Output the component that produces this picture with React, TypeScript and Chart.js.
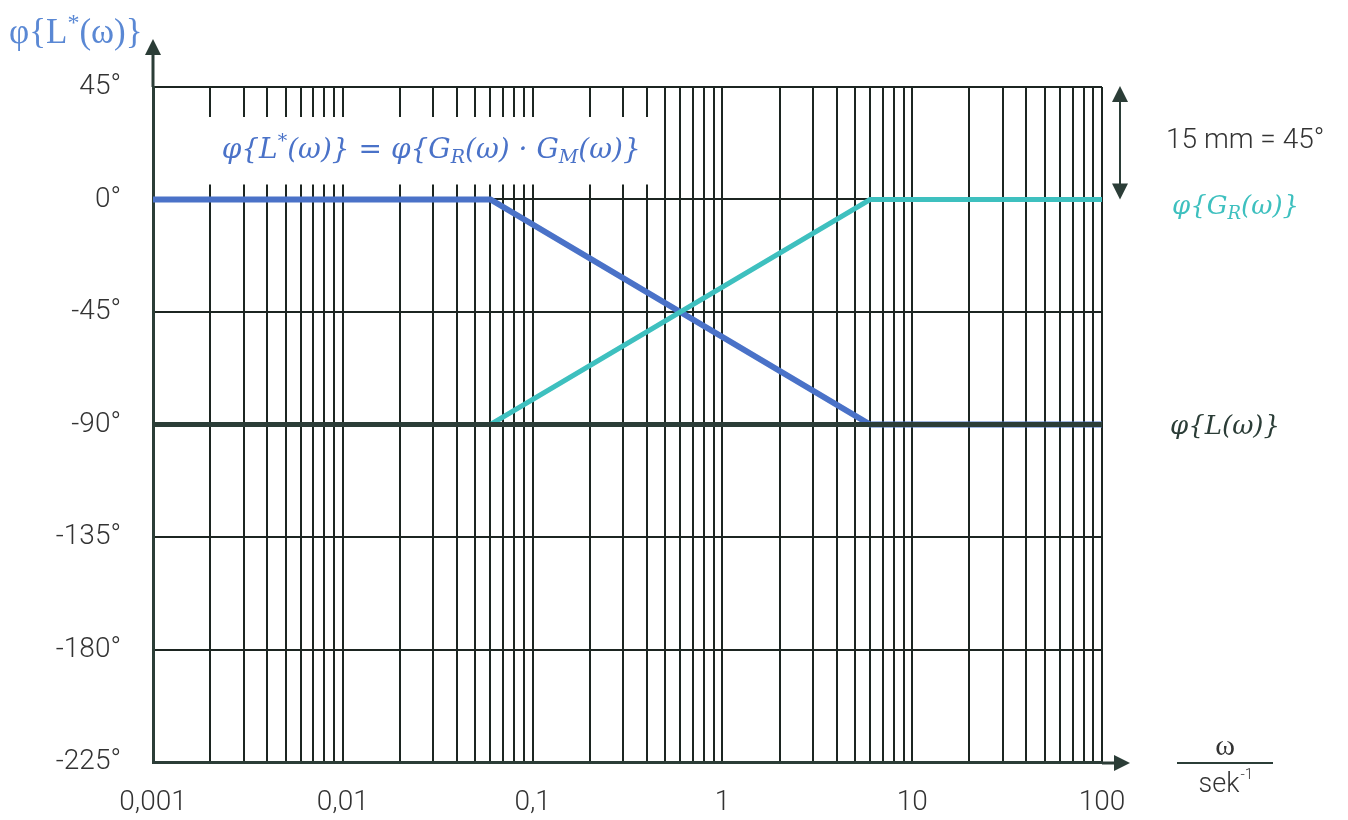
import React, { useEffect, useRef } from "react";
import { Chart, registerables } from "chart.js";

Chart.register(...registerables);

// Frequency range (rad/s) and decade labels
const omegaMin = 0.001;
const omegaMax = 100;
const decadeTicks = [0.001, 0.01, 0.1, 1, 10, 100];
const decadeTickLabels = ["0,001", "0,01", "0,1", "1", "10", "100"];

// Phase axis (degrees)
const phaseTicks = [45, 0, -45, -90, -135, -180, -225];

// Asymptotic phase curves
const omegaBreaks = [0.001, 0.06, 6, 100];
const phaseLStar = [0, 0, -90, -90];
const phaseGR = [-90, -90, 0, 0];
const omegaL = [0.001, 100];
const phaseL = [-90, -90];

const BLUE = "#4a72c8";
const TEAL = "#3ec0bf";
const DARK = "#2b3d37";
const GRID = "#1c2521";
const TEXT = "#333333";
const MATH_FONT = "'DejaVu Serif'";

// Log grid: 1..9 times every decade, plus the last decade line
const gridValues: number[] = [];
decadeTicks.slice(0, -1).forEach((d) => {
  for (let m = 1; m <= 9; m++) gridValues.push(d * m);
});
gridValues.push(decadeTicks[decadeTicks.length - 1]);

const toPoints = (xs: number[], ys: number[]) => xs.map((x, i) => ({ x, y: ys[i] }));

type Part = [string, "n" | "sub" | "sup"];

function arrowHead(ctx: CanvasRenderingContext2D, tipX: number, tipY: number, dir: "up" | "down" | "right", len = 16, half = 8) {
  ctx.beginPath();
  if (dir === "up") {
    ctx.moveTo(tipX, tipY);
    ctx.lineTo(tipX - half, tipY + len);
    ctx.lineTo(tipX + half, tipY + len);
  } else if (dir === "down") {
    ctx.moveTo(tipX, tipY);
    ctx.lineTo(tipX - half, tipY - len);
    ctx.lineTo(tipX + half, tipY - len);
  } else {
    ctx.moveTo(tipX, tipY);
    ctx.lineTo(tipX - len, tipY - half);
    ctx.lineTo(tipX - len, tipY + half);
  }
  ctx.closePath();
  ctx.fill();
}

// Draws a math label made of normal / subscript / superscript runs
function mathText(
  ctx: CanvasRenderingContext2D,
  parts: Part[],
  px: number,
  py: number,
  color: string,
  size: number,
  style = "italic",
  family = MATH_FONT,
  measureOnly = false
) {
  let cx = px;
  ctx.textAlign = "left";
  ctx.textBaseline = "middle";
  for (const [t, kind] of parts) {
    const s = kind === "n" ? size : Math.round(size * 0.68);
    ctx.font = `${style} ${s}px ${family}`;
    const dy = kind === "sub" ? size * 0.28 : kind === "sup" ? -size * 0.3 : 0;
    if (!measureOnly) {
      ctx.fillStyle = color;
      ctx.fillText(t, cx, py + dy);
    }
    cx += ctx.measureText(t).width;
  }
  return cx - px;
}

const formulaParts: Part[] = [
  ["φ{L", "n"],
  ["*", "sup"],
  ["(ω)} = φ{G", "n"],
  ["R", "sub"],
  ["(ω) · G", "n"],
  ["M", "sub"],
  ["(ω)}", "n"],
];
const FORMULA_SIZE = 28;

const annotations = {
  id: "bodeAnnotations",
  beforeDatasetsDraw(chart: any) {
    const { ctx, scales } = chart;
    const y = scales.y;
    const x = scales.x;
    // white panel behind the product formula
    ctx.save();
    const fx = x.getPixelForValue(0.0023);
    const w = mathText(ctx, formulaParts, fx, 0, BLUE, FORMULA_SIZE, "italic", MATH_FONT, true);
    ctx.fillStyle = "#ffffff";
    const top = y.getPixelForValue(45) + 30;
    const bottom = y.getPixelForValue(0) - 15;
    ctx.fillRect(fx - 14, top, w + 24, bottom - top);
    ctx.restore();
  },
  afterDraw(chart: any) {
    const { ctx, chartArea, scales } = chart;
    const y = scales.y;
    const x = scales.x;
    ctx.save();
    ctx.fillStyle = DARK;
    ctx.strokeStyle = DARK;

    // vertical axis arrow
    ctx.lineWidth = 3;
    ctx.beginPath();
    ctx.moveTo(chartArea.left, chartArea.top);
    ctx.lineTo(chartArea.left, chartArea.top - 34);
    ctx.stroke();
    arrowHead(ctx, chartArea.left, chartArea.top - 48, "up");

    // horizontal axis arrow
    ctx.beginPath();
    ctx.moveTo(chartArea.right, chartArea.bottom + 1);
    ctx.lineTo(chartArea.right + 16, chartArea.bottom + 1);
    ctx.stroke();
    arrowHead(ctx, chartArea.right + 28, chartArea.bottom + 1, "right");

    // scale marker 45 degrees
    const sx = chartArea.right + 18;
    const y45 = y.getPixelForValue(45);
    const y0 = y.getPixelForValue(0);
    ctx.lineWidth = 2;
    ctx.beginPath();
    ctx.moveTo(sx, y45 + 10);
    ctx.lineTo(sx, y0 - 10);
    ctx.stroke();
    arrowHead(ctx, sx, y45 - 1, "up", 16, 8);
    arrowHead(ctx, sx, y0, "down", 16, 8);

    // scale text
    ctx.textBaseline = "middle";
    ctx.fillStyle = TEXT;
    ctx.font = "300 28px Roboto";
    ctx.textAlign = "left";
    ctx.fillText("15 mm = 45°", chartArea.right + 64, (y45 + y0) / 2 - 2);

    // vertical axis title
    mathText(
      ctx,
      [["φ{L", "n"], ["*", "sup"], ["(ω)}", "n"]],
      9,
      chartArea.top - 53,
      "#5a88d4",
      35,
      "normal",
      "'Liberation Serif'"
    );

    // curve labels
    mathText(ctx, formulaParts, x.getPixelForValue(0.0023), (y45 + y0) / 2 + 7, BLUE, FORMULA_SIZE);
    mathText(ctx, [["φ{G", "n"], ["R", "sub"], ["(ω)}", "n"]], chartArea.right + 70, y0 + 8, TEAL, 26);
    mathText(ctx, [["φ{L(ω)}", "n"]], chartArea.right + 68, y.getPixelForValue(-90) + 3, DARK, 26);

    // frequency unit fraction
    const fx = chartArea.right + 123;
    const fy = chartArea.bottom + 1;
    ctx.fillStyle = DARK;
    ctx.fillRect(fx - 48, fy - 1, 96, 2);
    ctx.fillStyle = TEXT;
    ctx.textAlign = "center";
    ctx.textBaseline = "middle";
    ctx.font = "30px 'Liberation Serif'";
    ctx.fillText("ω", fx, fy - 16);
    ctx.font = "300 27px Roboto";
    ctx.fillText("sek", fx - 6, fy + 22);
    const w = ctx.measureText("sek").width;
    ctx.font = "300 15px Roboto";
    ctx.textAlign = "left";
    ctx.fillText("-1", fx - 6 + w / 2 + 1, fy + 12);
    ctx.restore();
  },
};

export default function App() {
  const canvasRef = useRef<HTMLCanvasElement | null>(null);

  useEffect(() => {
    if (!canvasRef.current) return;
    const chart = new Chart(canvasRef.current, {
      type: "line",
      data: {
        datasets: [
          {
            label: "φ{L(ω)}",
            data: toPoints(omegaL, phaseL),
            borderColor: DARK,
            borderWidth: 5,
            pointRadius: 0,
            borderCapStyle: "butt",
          },
          {
            label: "φ{G_R(ω)}",
            data: toPoints(omegaBreaks, phaseGR),
            borderColor: TEAL,
            borderWidth: 5,
            pointRadius: 0,
            borderCapStyle: "butt",
          },
          {
            label: "φ{L*(ω)}",
            data: toPoints(omegaBreaks, phaseLStar),
            borderColor: BLUE,
            borderWidth: 6,
            pointRadius: 0,
            borderCapStyle: "butt",
          },
        ],
      },
      options: {
        responsive: false,
        animation: false,
        events: [],
        layout: { padding: { top: 87, right: 246, left: 0, bottom: 0 } },
        plugins: { legend: { display: false }, tooltip: { enabled: false } },
        elements: { line: { tension: 0 } },
        scales: {
          x: {
            type: "logarithmic",
            min: omegaMin,
            max: omegaMax,
            afterBuildTicks: (scale: any) => {
              scale.ticks = gridValues.map((v) => ({ value: v }));
            },
            afterFit: (scale: any) => {
              scale.height = 58;
            },
            grid: { color: GRID, lineWidth: 2, drawTicks: false },
            border: { color: DARK, width: 3 },
            ticks: {
              autoSkip: false,
              maxRotation: 0,
              padding: 24,
              color: TEXT,
              font: { family: "Roboto", size: 28, weight: "300" },
              callback: (value: any) => {
                const v = Number(value);
                const i = decadeTicks.findIndex((d) => Math.abs(d - v) / d < 1e-6);
                return i >= 0 ? decadeTickLabels[i] : "";
              },
            },
          },
          y: {
            type: "linear",
            min: phaseTicks[phaseTicks.length - 1],
            max: phaseTicks[0],
            afterBuildTicks: (scale: any) => {
              scale.ticks = phaseTicks.map((v) => ({ value: v }));
            },
            afterFit: (scale: any) => {
              scale.width = 153;
            },
            grid: { color: GRID, lineWidth: 2, drawTicks: false },
            border: { color: DARK, width: 3 },
            ticks: {
              padding: 32,
              color: TEXT,
              font: { family: "Roboto", size: 28, weight: "300" },
              callback: (value: any) => `${value}°`,
            },
          },
        },
      },
      plugins: [annotations],
    } as any);
    return () => chart.destroy();
  }, []);

  return (
    <div style={{ position: "fixed", left: 0, top: 0, width: 1348, height: 820, background: "#fff" }}>
      <canvas ref={canvasRef} width={1348} height={820} />
    </div>
  );
}
